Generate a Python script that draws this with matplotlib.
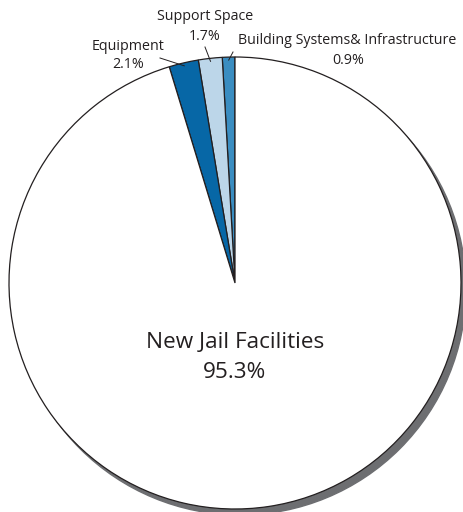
import numpy as np
import matplotlib
matplotlib.use("Agg")
import matplotlib.pyplot as plt
from matplotlib.patches import Circle

plt.rcParams['font.family'] = ['Open Sans', 'DejaVu Sans']

# data (counter-clockwise from 12 o'clock)
labels = ['Building Systems& Infrastructure', 'Support Space', 'Equipment', 'New Jail Facilities']
shares = [0.9, 1.7, 2.1, 95.3]
colors = ['#3a8dc1', '#bcd6e9', '#0767a6', '#ffffff']

W, H = 463, 512
fig = plt.figure(figsize=(W / 100, H / 100), dpi=100)
ax = fig.add_axes([0, 0, 1, 1])

cx, cy, r = 235, H - 283, 226

# drop shadow
ax.add_patch(Circle((cx + 5, cy - 6), r, color='#6d6e71', zorder=0))

wedges, _ = ax.pie(shares, colors=colors, startangle=90, counterclock=True,
                   radius=r, center=(cx, cy), frame=True,
                   wedgeprops=dict(edgecolor='#231f20', linewidth=0.9))
ax.set_xlim(0, W)
ax.set_ylim(0, H)
ax.set_aspect('equal')
ax.axis('off')

# small labels with leader lines
small = {
    0: dict(text_xy=(238, 41), ha='left', pct_xy=(348, 60), line_start=(233, 52)),
    1: dict(text_xy=(205, 17), ha='center', pct_xy=(205, 37), line_start=(205, 47)),
    2: dict(text_xy=(128, 46), ha='center', pct_xy=(128, 64), line_start=(160, 58)),
}
for i, opt in small.items():
    w = wedges[i]
    mid = np.deg2rad((w.theta1 + w.theta2) / 2)
    ex = cx + (r - 3) * np.cos(mid)
    ey = cy + (r - 3) * np.sin(mid)
    sx, sy = opt['line_start']
    ax.plot([sx, ex], [H - sy, ey], color='#231f20', lw=0.7)
    tx, ty = opt['text_xy']
    ax.text(tx, H - ty, labels[i], ha=opt['ha'], va='center', fontsize=10.3, color='#231f20')
    px, py = opt['pct_xy']
    ax.text(px, H - py, f'{shares[i]}%', ha='center', va='center', fontsize=10.3, color='#231f20')

ax.text(cx, H - 342, labels[3], ha='center', va='center', fontsize=16.2, color='#231f20')
ax.text(cx, H - 373, f'{shares[3]}%', ha='center', va='center', fontsize=16.2, color='#231f20')

fig.savefig('out.png', dpi=100)
